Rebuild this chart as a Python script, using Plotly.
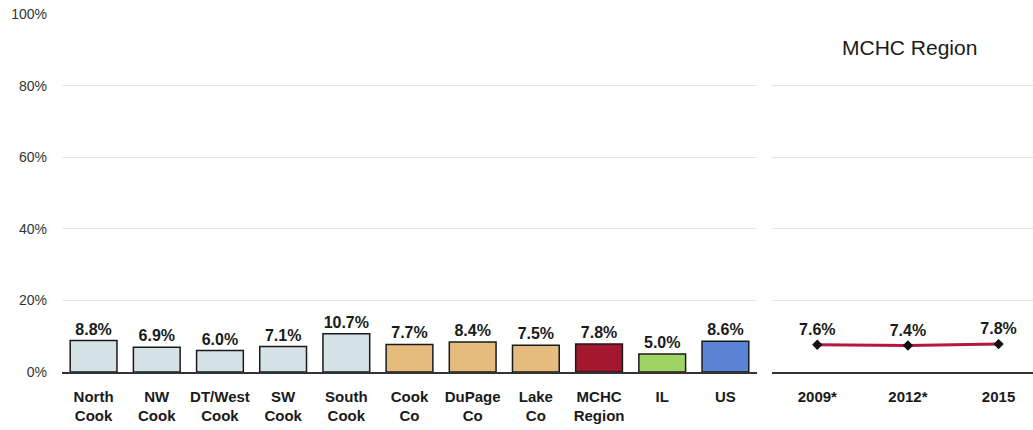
import plotly.graph_objects as go

# Area / comparison bars
areas = ["North<br>Cook", "NW<br>Cook", "DT/West<br>Cook", "SW<br>Cook", "South<br>Cook",
         "Cook<br>Co", "DuPage<br>Co", "Lake<br>Co", "MCHC<br>Region", "IL", "US"]
area_values = [8.8, 6.9, 6.0, 7.1, 10.7, 7.7, 8.4, 7.5, 7.8, 5.0, 8.6]
area_colors = ["#d5e2e7"] * 5 + ["#e5bc7d"] * 3 + ["#a3172f", "#9fd464", "#5b83d5"]

# MCHC Region trend
years = ["2009*", "2012*", "2015"]
trend_values = [7.6, 7.4, 7.8]

y_ticks = [0, 20, 40, 60, 80, 100]
y_tick_text = ["0%", "20%", "40%", "60%", "80%", "100%"]

W, H = 1033, 430
FONT = "Liberation Sans, Arial, sans-serif"
label_font = dict(family=FONT, size=16, color="#1a1a1a", weight="bold")
tick_font = dict(family=FONT, size=15, color="#1a1a1a", weight="bold")

fig = go.Figure()

fig.add_trace(go.Bar(
    x=areas, y=area_values,
    marker=dict(color=area_colors, line=dict(color="#1a1a1a", width=1.5)),
    width=0.74,
    text=[f"{v:.1f}%" for v in area_values],
    textposition="outside",
    textfont=label_font,
    cliponaxis=False,
    xaxis="x", yaxis="y",
    showlegend=False,
))

fig.add_trace(go.Scatter(
    x=years, y=trend_values,
    mode="lines+markers+text",
    line=dict(color="#b3173a", width=3),
    marker=dict(symbol="diamond", size=8, color="#111111"),
    text=[f"{v:.1f}%" for v in trend_values],
    textposition="top center",
    textfont=label_font,
    cliponaxis=False,
    xaxis="x2", yaxis="y2",
    showlegend=False,
))

grid = "#e6e6e6"
common_y = dict(range=[0, 100], tickvals=y_ticks, showgrid=True, gridcolor=grid, gridwidth=1,
                zeroline=False, showline=False, fixedrange=True)

fig.update_layout(
    width=W, height=H,
    margin=dict(l=0, r=0, t=14, b=58),
    paper_bgcolor="white", plot_bgcolor="white",
    xaxis=dict(domain=[62 / W, 757 / W], tickfont=tick_font, showline=True, linecolor="#333333",
               linewidth=1.5, ticks="", showgrid=False, range=[-0.5, 10.5], ticklabelstandoff=10,
               automargin=False),
    yaxis=dict(**common_y, ticktext=y_tick_text,
               tickfont=dict(family=FONT, size=14, color="#333333"),
               ticklen=0, ticklabelstandoff=14, automargin=False),
    xaxis2=dict(domain=[772 / W, 1.0], tickfont=tick_font, showline=True, linecolor="#333333",
                linewidth=1.5, ticks="", showgrid=False, range=[-0.5, 2.38], anchor="y2",
                ticklabelstandoff=10, automargin=False),
    yaxis2=dict(**common_y, showticklabels=False, anchor="x2"),
    annotations=[dict(
        text="MCHC Region", xref="x2 domain", yref="paper",
        x=0.525, y=(H - 47 - 58) / (H - 72), xanchor="center", yanchor="middle", showarrow=False,
        font=dict(family=FONT, size=21, color="#1a1a1a"),
    )],
)

fig.write_html("out.html")
